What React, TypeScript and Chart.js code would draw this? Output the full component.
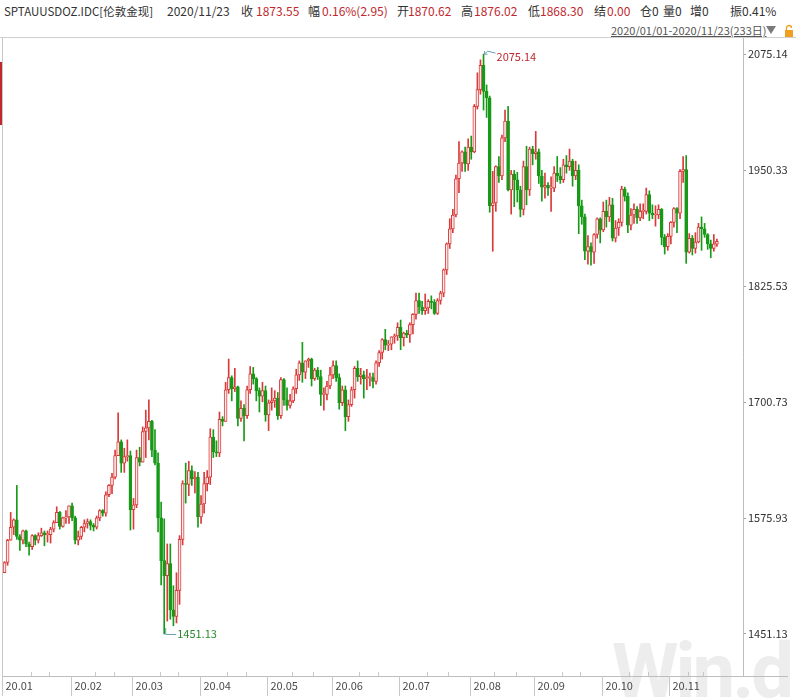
import { useEffect, useRef } from "react";
import { Chart, registerables } from "chart.js";
Chart.register(...registerables);

// ---- data ----
const MONTH_LABELS = ["20.01", "20.02", "20.03", "20.04", "20.05", "20.06", "20.07", "20.08", "20.09", "20.10", "20.11"];
const MONTH_DAYS = [22, 20, 22, 22, 21, 22, 23, 21, 22, 22, 16];
const EMPTY_SLOTS = 8;

const OPEN = [
  1517,1528,1552,1566,1574,1556,1552,1562,1548,1545,1557,1552,1557,1560,1558,1558,1564,1571,1582,1567,1576,1577,
  1589,1576,1552,1556,1566,1570,1572,1568,1566,1576,1584,1581,1601,1611,1620,1643,1658,1635,1642,1643,
  1585,1590,1641,1636,1669,1673,1680,1649,1635,1576,1530,1514,1527,1477,1470,1498,1553,1613,1612,1627,1618,1620,
  1577,1591,1613,1620,1663,1647,1646,1682,1680,1714,1727,1715,1717,1683,1694,1686,1714,1731,1726,1713,1707,1713,
  1687,1700,1702,1705,1686,1725,1703,1697,1702,1715,1730,1743,1733,1745,1747,1726,1735,1728,1709,1709,1718,
  1730,1740,1727,1700,1714,1685,1698,1714,1737,1728,1730,1726,1727,1727,1723,1743,1754,1768,1762,1763,1771,1772,
  1781,1770,1775,1773,1784,1795,1810,1803,1799,1802,1809,1808,1796,1810,1818,1843,1871,1887,1902,1941,1958,1970,1957,
  1975,1970,2019,2037,2063,2035,2028,1912,1915,1954,1944,1985,2003,1929,1946,1940,1929,1908,1954,1929,1973,
  1968,1970,1944,1932,1934,1931,1931,1947,1944,1940,1956,1954,1960,1944,1950,1912,1900,1863,1868,1862,1881,1898,
  1886,1906,1900,1913,1877,1888,1894,1930,1922,1891,1902,1908,1899,1906,1906,1924,1904,1902,1902,1908,1878,1868,
  1879,1894,1909,1904,1949,1951,1862,1877,1866,1873,1889,1887,1881,1871,1866,1870.62,
];
const HIGH = [
  1529,1553,1582,1575,1611,1558,1563,1563,1550,1558,1558,1560,1565,1562,1562,1566,1573,1588,1583,1577,1584,1589,
  1592,1578,1562,1567,1574,1575,1574,1570,1578,1585,1585,1604,1612,1624,1649,1689,1660,1651,1660,1648,
  1597,1649,1652,1674,1692,1703,1681,1671,1646,1593,1575,1548,1548,1503,1517,1557,1616,1635,1637,1632,1626,1625,
  1600,1625,1627,1672,1671,1659,1690,1685,1722,1747,1729,1737,1718,1702,1698,1718,1739,1738,1727,1716,1722,1718,
  1703,1716,1713,1711,1727,1726,1716,1709,1717,1736,1745,1765,1745,1748,1748,1737,1738,1735,1716,1723,1738,
  1745,1745,1731,1718,1718,1703,1717,1739,1745,1737,1734,1736,1732,1732,1745,1756,1769,1779,1767,1771,1774,1786,
  1789,1776,1778,1786,1796,1818,1818,1809,1817,1811,1815,1811,1812,1820,1844,1872,1898,1908,1945,1981,1971,1975,1984,
  1987,2021,2055,2069,2075.14,2042,2030,1949,1955,1965,1988,2015,2019,1950,1950,1948,1933,1960,1976,1975,1976,
  1992,1973,1950,1947,1937,1943,1954,1965,1953,1962,1966,1973,1962,1960,1956,1918,1903,1880,1872,1882,1899,1899,
  1916,1918,1921,1920,1896,1898,1933,1932,1926,1909,1914,1911,1914,1914,1931,1928,1913,1912,1913,1909,1881,1882,
  1895,1910,1910,1951,1965,1966,1882,1880,1883,1893,1900,1893,1882,1875,1881,1876.02,
];
const LOW = [
  1517,1525,1552,1558,1553,1541,1548,1545,1536,1542,1547,1549,1556,1546,1550,1549,1561,1571,1564,1566,1570,1570,
  1573,1548,1547,1553,1561,1565,1563,1562,1564,1573,1578,1578,1599,1602,1618,1643,1625,1625,1637,1563,
  1564,1587,1632,1636,1641,1660,1642,1633,1561,1504,1451.13,1465,1467,1460,1463,1483,1547,1592,1600,1611,1603,1566,
  1570,1581,1605,1612,1641,1642,1642,1675,1680,1710,1702,1712,1675,1680,1659,1683,1710,1720,1702,1690,1701,1680,
  1670,1692,1695,1682,1683,1697,1692,1694,1700,1710,1724,1722,1726,1738,1718,1724,1725,1697,1692,1703,1715,
  1726,1723,1693,1697,1670,1680,1696,1705,1723,1720,1705,1714,1718,1716,1720,1739,1747,1757,1756,1757,1764,1767,
  1757,1761,1770,1765,1774,1790,1796,1795,1795,1796,1801,1795,1795,1806,1814,1838,1866,1883,1900,1926,1949,1949,1950,
  1962,1969,2016,2032,2015,2007,1905,1863,1906,1937,1940,1981,1928,1903,1911,1916,1900,1902,1913,1923,1956,
  1962,1936,1917,1920,1923,1906,1927,1938,1936,1937,1947,1950,1933,1940,1882,1892,1854,1849,1848,1850,1877,1872,
  1884,1889,1895,1874,1873,1880,1890,1917,1883,1886,1893,1893,1896,1898,1903,1896,1898,1890,1898,1870,1860,1864,
  1871,1889,1883,1898,1937,1850,1861,1859,1861,1872,1864,1878,1865,1856,1863,1868.30,
];
const CLOSE = [
  1528,1552,1566,1574,1556,1552,1562,1548,1545,1557,1552,1557,1560,1558,1558,1564,1571,1582,1567,1576,1577,1589,
  1576,1552,1556,1566,1570,1572,1568,1566,1576,1584,1581,1601,1611,1620,1643,1658,1635,1642,1643,1585,
  1590,1641,1636,1669,1673,1680,1649,1635,1576,1530,1514,1527,1477,1470,1498,1553,1613,1612,1627,1618,1620,1577,
  1591,1613,1620,1663,1647,1646,1682,1680,1714,1727,1715,1717,1683,1694,1686,1714,1731,1726,1713,1707,1713,1687,
  1700,1702,1705,1686,1725,1703,1697,1702,1715,1730,1743,1733,1745,1747,1726,1735,1728,1709,1709,1718,1730,
  1740,1727,1700,1714,1685,1698,1714,1737,1728,1730,1726,1727,1727,1723,1743,1754,1768,1762,1763,1771,1772,1781,
  1770,1775,1773,1784,1795,1810,1803,1799,1802,1809,1808,1796,1810,1818,1843,1871,1887,1902,1941,1958,1970,1957,1975,
  1970,2019,2037,2063,2035,2028,1912,1915,1954,1944,1985,2003,1929,1946,1940,1929,1908,1954,1929,1973,1968,
  1970,1944,1932,1934,1931,1931,1947,1944,1940,1956,1954,1960,1944,1950,1912,1900,1863,1868,1862,1881,1898,1886,
  1906,1900,1913,1877,1888,1894,1930,1922,1891,1902,1908,1899,1906,1906,1924,1904,1902,1902,1908,1878,1868,1879,
  1894,1909,1904,1949,1951,1862,1877,1866,1873,1889,1887,1881,1871,1866,1871,1873.55,
];
const Y_TICKS = [1451.13, 1575.93, 1700.73, 1825.53, 1950.33, 2075.14];
const Y_MIN = 1405.9;
const Y_MAX = 2092.5;

const UP = "#d93a3a";
const DOWN = "#179a17";
const FONT = '"Noto Sans CJK SC", "Noto Sans", sans-serif';

export default function App() {
  const ref = useRef<HTMLCanvasElement>(null);

  useEffect(() => {
    document.body.style.margin = "0";
    const canvas = ref.current!;
    const total = MONTH_DAYS.reduce((a, b) => a + b, 0) + EMPTY_SLOTS;
    const labels: string[] = [];
    MONTH_LABELS.forEach((m, mi) => {
      for (let d = 0; d < MONTH_DAYS[mi]; d++) labels.push(m + "-" + (d + 1));
    });
    while (labels.length < total) labels.push("");

    const isUp = CLOSE.map((c, i) => c >= OPEN[i]);
    const lineColor = isUp.map((u) => (u ? UP : DOWN));
    const fillColor = isUp.map((u) => (u ? "#fbeaea" : DOWN));

    const overlay = {
      id: "overlay",
      afterDraw(chart: any) {
        const c = chart.ctx as CanvasRenderingContext2D;
        const xs = chart.scales.x;
        const ys = chart.scales.y;
        const area = chart.chartArea;
        c.save();
        c.strokeStyle = "#c8c8c8";
        c.lineWidth = 1;
        c.beginPath();
        c.moveTo(2.5, 0);
        c.lineTo(2.5, area.bottom + 20);
        c.stroke();
        c.strokeStyle = "#bdbdbd";
        c.beginPath();
        c.moveTo(2, Math.round(area.bottom) + 0.5);
        c.lineTo(788, Math.round(area.bottom) + 0.5);
        c.stroke();
        let start = 0;
        c.font = "11px " + FONT;
        c.textBaseline = "middle";
        c.textAlign = "left";
        MONTH_LABELS.forEach((m, mi) => {
          const n = MONTH_DAYS[mi];
          const bx = start === 0 ? 2.5 : Math.round((xs.getPixelForValue(start - 1) + xs.getPixelForValue(start)) / 2) + 0.5;
          c.strokeStyle = "#c8c8c8";
          c.beginPath();
          c.moveTo(bx, area.bottom);
          c.lineTo(bx, area.bottom + 20);
          c.stroke();
          [Math.round(n * 0.4), Math.round(n * 0.7)].forEach((k) => {
            const i = start + k;
            const tx = Math.round((xs.getPixelForValue(i - 1) + xs.getPixelForValue(i)) / 2) + 0.5;
            c.beginPath();
            c.moveTo(tx, area.bottom - 4);
            c.lineTo(tx, area.bottom);
            c.stroke();
          });
          c.fillStyle = "#4a4a4a";
          c.fillText(m, bx + 3, area.bottom + 10);
          start += n;
        });
        let hi = 0;
        let lo = 0;
        HIGH.forEach((v, i) => { if (v > HIGH[hi]) hi = i; });
        LOW.forEach((v, i) => { if (v < LOW[lo]) lo = i; });
        const hx = xs.getPixelForValue(hi);
        const hy = ys.getPixelForValue(HIGH[hi]);
        c.strokeStyle = "#6a9fb5";
        c.beginPath();
        c.moveTo(hx + 1, hy);
        c.lineTo(hx + 4, hy - 3);
        c.lineTo(hx + 12, hy - 1);
        c.moveTo(hx + 1, hy);
        c.lineTo(hx + 1, hy - 3);
        c.moveTo(hx + 1, hy);
        c.lineTo(hx + 4, hy);
        c.stroke();
        c.fillStyle = "#c0282d";
        c.fillText(HIGH[hi].toFixed(2), hx + 13, hy + 3);
        const lx = xs.getPixelForValue(lo);
        const ly = ys.getPixelForValue(LOW[lo]);
        c.strokeStyle = "#6a9fb5";
        c.beginPath();
        c.moveTo(lx + 1.5, ly - 6);
        c.lineTo(lx + 1.5, ly + 0.5);
        c.lineTo(lx + 12, ly + 0.5);
        c.stroke();
        c.fillStyle = "#2a8a2a";
        c.fillText(LOW[lo].toFixed(2), lx + 13, ly);
        c.restore();
      },
    };

    const chart = new Chart(canvas, {
      type: "bar",
      data: {
        labels,
        datasets: [
          {
            data: LOW.map((l, i) => [l, HIGH[i]]) as any,
            backgroundColor: lineColor,
            barThickness: 1,
            grouped: false,
            order: 2,
          } as any,
          {
            data: OPEN.map((o, i) => [o, CLOSE[i]]) as any,
            backgroundColor: fillColor,
            borderColor: lineColor,
            borderWidth: 1,
            borderSkipped: false,
            barThickness: 3,
            minBarLength: 1,
            grouped: false,
            order: 1,
          } as any,
        ],
      },
      options: {
        animation: false,
        responsive: false,
        maintainAspectRatio: false,
        layout: { padding: { left: 3, top: 0, right: 0, bottom: 0 } },
        plugins: { legend: { display: false }, tooltip: { enabled: false } },
        scales: {
          x: {
            type: "category",
            offset: true,
            ticks: { display: false },
            grid: { display: false },
            border: { display: false },
            afterFit: (s: any) => { s.height = 22; s.paddingLeft = 0; s.paddingRight = 0; },
          },
          y: {
            position: "right",
            min: Y_MIN,
            max: Y_MAX,
            afterBuildTicks: (s: any) => { s.ticks = Y_TICKS.map((v) => ({ value: v })); },
            ticks: {
              callback: (v: any) => Number(v).toFixed(2),
              color: "#333",
              font: { family: FONT, size: 11 },
              padding: 2,
              autoSkip: false,
            },
            grid: { drawOnChartArea: false, drawTicks: true, tickLength: 3, color: "#a0a0a0" },
            border: { display: true, color: "#bdbdbd" },
            afterFit: (s: any) => { s.width = 53; s.paddingTop = 0; s.paddingBottom = 0; },
          },
        },
      } as any,
      plugins: [overlay],
    });
    return () => chart.destroy();
  }, []);

  const t = (x: number, y: number, text: string, color = "#333", extra: any = {}) => (
    <span style={{ position: "absolute", left: x, top: y, color, whiteSpace: "nowrap", lineHeight: "16px", ...extra }}>{text}</span>
  );
  const red = "#c0282d";

  return (
    <div style={{ position: "relative", width: 796, height: 698, background: "#fff", overflow: "hidden", fontFamily: FONT, fontSize: 12 }}>
      <div style={{ position: "absolute", left: 612, top: 633, fontFamily: "Roboto, sans-serif", fontWeight: 700, fontSize: 76, lineHeight: 1, color: "#ededed", letterSpacing: -3, whiteSpace: "nowrap" }}>Win.d</div>
      {t(4, 3, "SPTAUUSDOZ.IDC[伦敦金现]", "#333", { fontSize: 11.5 })}
      {t(167, 3, "2020/11/23")}
      {t(241, 3, "收")}
      {t(256, 3, "1873.55", red)}
      {t(308, 3, "幅")}
      {t(322, 3, "0.16%(2.95)", red)}
      {t(397, 3, "开")}
      {t(408, 3, "1870.62", red)}
      {t(461, 3, "高")}
      {t(474, 3, "1876.02", red)}
      {t(528, 3, "低")}
      {t(540, 3, "1868.30", red)}
      {t(594, 3, "结")}
      {t(607, 3, "0.00", red)}
      {t(640, 3, "仓0")}
      {t(663, 3, "量0")}
      {t(690, 3, "增0")}
      {t(730, 3, "振0.41%")}
      {t(611, 22, "2020/01/01-2020/11/23(233日)", "#555", { fontSize: 11, textDecoration: "underline" })}
      <svg style={{ position: "absolute", left: 764, top: 24 }} width={32} height={14}>
        <polygon points="2,2 12,2 7,10" fill="#7a7a7a" />
        <rect x={21} y={6} width={8} height={7} fill="#f0a020" />
        <path d="M22.5 6 V4 A2.5 2.5 0 0 1 27.5 4" stroke="#f0a020" strokeWidth={1.3} fill="none" />
      </svg>
      <div style={{ position: "absolute", left: 0, top: 37, width: 796, height: 1, background: "#cfcfcf" }} />
      <div style={{ position: "absolute", left: 0, top: 62, width: 3, height: 63, background: "#c0282d" }} />
      <div style={{ position: "absolute", left: 0, top: 38, width: 796, height: 660 }}>
        <canvas ref={ref} width={796} height={660} style={{ width: 796, height: 660, display: "block" }} />
      </div>
    </div>
  );
}
